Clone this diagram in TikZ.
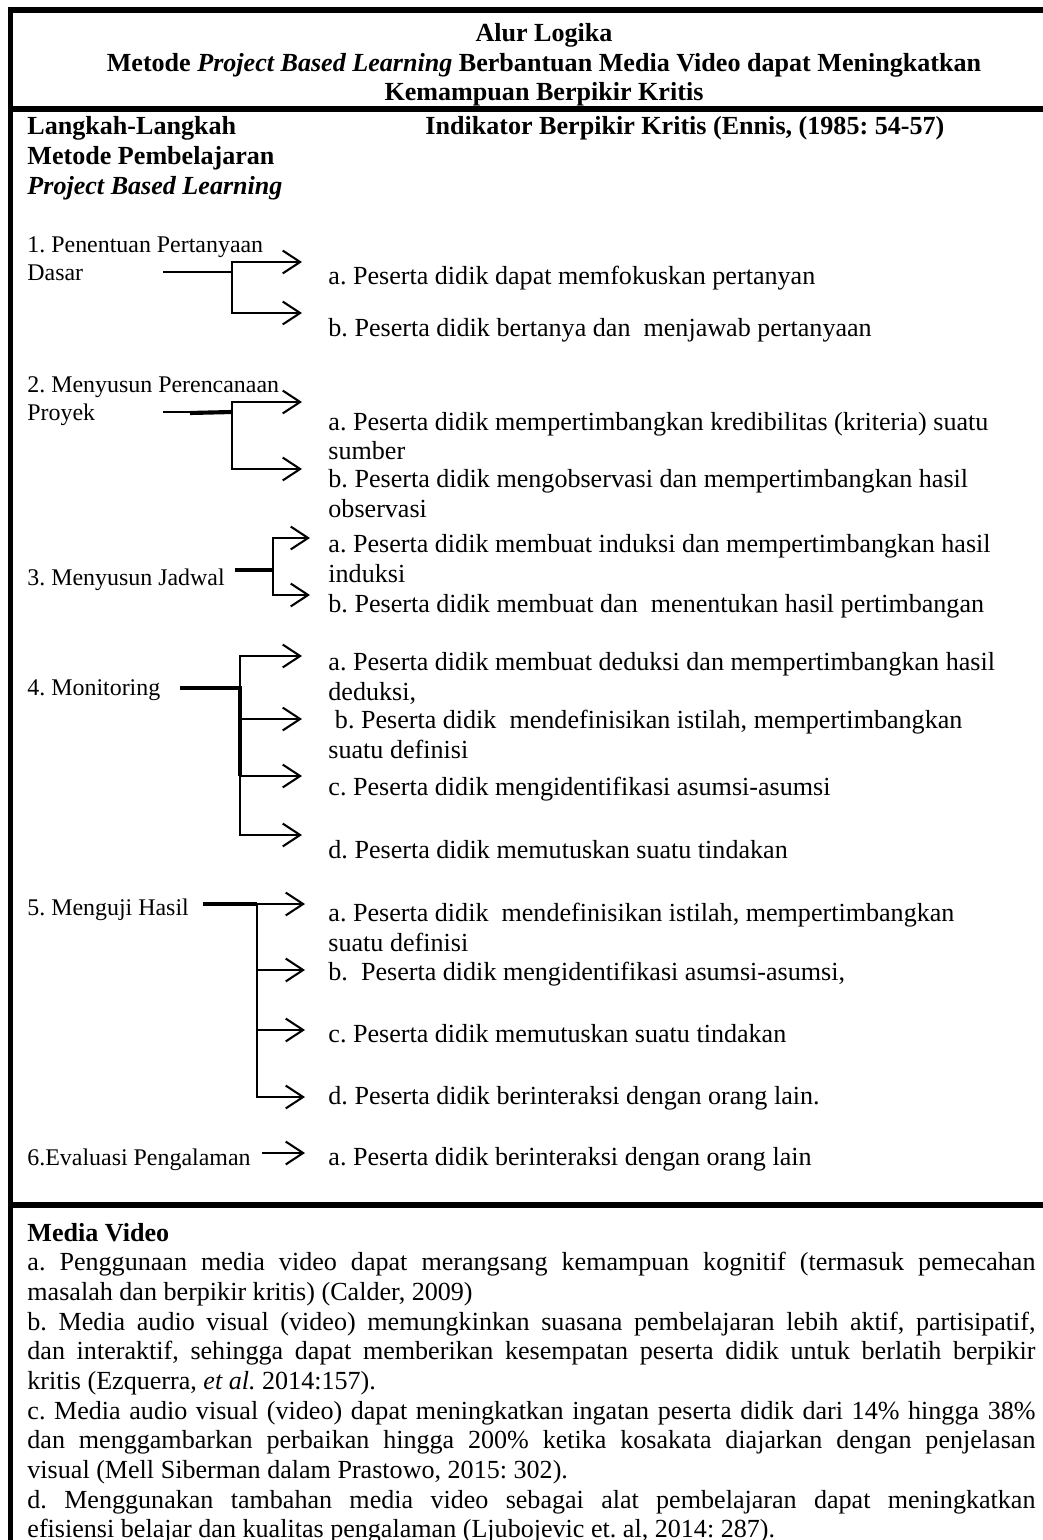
\documentclass[tikz,border=0pt]{standalone}
\usepackage{fontspec}
\setmainfont{Liberation Serif}
\usetikzlibrary{arrows.meta}
\frenchspacing

\begin{document}
\begin{tikzpicture}[x=0.46pt,y=-0.46pt,
  frame/.style={line width=2.45pt},
  link/.style={line width=0.95pt},
  heavy/.style={line width=1.9pt},
  arr/.style={line width=0.95pt,-{Straight Barb[length=8pt,width=10.5pt]}},
  stage/.style={anchor=base west,inner sep=0pt,align=left,font=\fontsize{11}{12.9}\selectfont},
  ind/.style={anchor=base west,inner sep=0pt,align=left,font=\fontsize{12}{13.6}\selectfont}]
\useasboundingbox (0,0) rectangle (1042,1540);

% frame and rules
\draw[frame] (10.7,7.5) -- (10.7,1545);
\draw[frame] (8,10) -- (1045,10);
\draw[frame] (8,109) -- (1045,109);
\draw[frame] (8,1205) -- (1045,1205);

% title and headers (multi-line nodes sit on their last baseline)
\node[anchor=base,inner sep=0pt,align=center,font=\bfseries\fontsize{12}{13.6}\selectfont] (title) at (544,101) {Alur Logika\\Metode \textit{Project Based Learning} Berbantuan Media Video dapat Meningkatkan\\Kemampuan Berpikir Kritis};
\node[ind,font=\bfseries\fontsize{12}{13.9}\selectfont] (head1) at (27,195) {Langkah-Langkah\\Metode Pembelajaran\\\textit{Project Based Learning}};
\node[ind,font=\bfseries\fontsize{12}{13.6}\selectfont] (head2) at (425,134.6) {Indikator Berpikir Kritis (Ennis, (1985: 54-57)};

% step 1
\node[stage] (p1) at (27,281) {1. Penentuan Pertanyaan\\Dasar};
\node[ind] (p1a) at (328,285) {a. Peserta didik dapat memfokuskan pertanyan};
\node[ind] (p1b) at (328,337) {b. Peserta didik bertanya dan~ menjawab pertanyaan};
\coordinate (s1) at (163,272);
\coordinate (b1) at (232,272);
\coordinate (e1a) at (302,262);
\coordinate (e1b) at (302,313);
\draw[link] (s1) -- (b1);
\draw[arr] (b1) |- (e1a);
\draw[arr] (b1) |- (e1b);

% step 2
\node[stage] (p2) at (27,421) {2. Menyusun Perencanaan\\Proyek};
\node[ind] (p2a) at (328,460) {a. Peserta didik mempertimbangkan kredibilitas (kriteria) suatu\\sumber};
\node[ind] (p2b) at (328,517) {b. Peserta didik mengobservasi dan mempertimbangkan hasil\\observasi};
\coordinate (s2) at (163,412);
\coordinate (m2) at (190,413);
\coordinate (b2) at (232,412);
\coordinate (e2a) at (302,402);
\coordinate (e2b) at (302,469);
\draw[link] (s2) -- (b2);
\draw[heavy] (m2) -- (b2);
\draw[arr] (b2) |- (e2a);
\draw[arr] (b2) |- (e2b);

% step 3
\node[stage] (p3) at (27,585) {3. Menyusun Jadwal};
\node[ind] (p3a) at (328,582) {a. Peserta didik membuat induksi dan mempertimbangkan hasil\\induksi};
\node[ind] (p3b) at (328,612) {b. Peserta didik membuat dan~ menentukan hasil pertimbangan};
\coordinate (s3) at (235,570);
\coordinate (b3) at (273,570);
\coordinate (e3a) at (310,538);
\coordinate (e3b) at (310,595);
\draw[heavy] (s3) -- (b3);
\draw[arr] (b3) |- (e3a);
\draw[arr] (b3) |- (e3b);

% step 4
\node[stage] (p4) at (27,695) {4. Monitoring};
\node[ind] (p4a) at (328,700) {a. Peserta didik membuat deduksi dan mempertimbangkan hasil\\deduksi,};
\node[ind] (p4b) at (328,758) {\hspace*{0.25em}b. Peserta didik~ mendefinisikan istilah, mempertimbangkan\\suatu definisi};
\node[ind] (p4c) at (328,795) {c. Peserta didik mengidentifikasi asumsi-asumsi};
\node[ind] (p4d) at (328,858) {d. Peserta didik memutuskan suatu tindakan};
\coordinate (s4) at (180,688);
\coordinate (b4) at (240,688);
\coordinate (e4a) at (302,656);
\coordinate (e4b) at (302,719);
\coordinate (e4c) at (302,776);
\coordinate (e4d) at (302,835);
\draw[heavy] (s4) -- (b4) -- (b4 |- e4c);
\draw[arr] (b4) |- (e4a);
\draw[arr] (b4) |- (e4b);
\draw[arr] (b4) |- (e4c);
\draw[arr] (b4) |- (e4d);

% step 5
\node[stage] (p5) at (27,915) {5. Menguji Hasil};
\node[ind] (p5a) at (328,951) {a. Peserta didik~ mendefinisikan istilah, mempertimbangkan\\suatu definisi};
\node[ind] (p5b) at (328,980) {b.~ Peserta didik mengidentifikasi asumsi-asumsi,};
\node[ind] (p5c) at (328,1042) {c. Peserta didik memutuskan suatu tindakan};
\node[ind] (p5d) at (328,1104) {d. Peserta didik berinteraksi dengan orang lain.};
\coordinate (s5) at (203,904);
\coordinate (b5) at (257,904);
\coordinate (e5a) at (305,904);
\coordinate (e5b) at (305,970);
\coordinate (e5c) at (305,1030);
\coordinate (e5d) at (305,1097);
\draw[heavy] (s5) -- (b5);
\draw[arr] (b5) -- (e5a);
\draw[arr] (b5) |- (e5b);
\draw[arr] (b5) |- (e5c);
\draw[arr] (b5) |- (e5d);

% step 6
\node[stage] (p6) at (27,1165) {6.Evaluasi Pengalaman};
\node[ind] (p6a) at (328,1165) {a. Peserta didik berinteraksi dengan orang lain};
\coordinate (s6) at (262,1153);
\coordinate (e6a) at (305,1153);
\draw[arr] (s6) -- (e6a);

% media video
\node[anchor=base west,inner sep=0pt,text width=463.7pt,align=justify,font=\fontsize{12}{13.65}\selectfont] (media) at (27,1241) {\textbf{Media Video}\par
a. Penggunaan media video dapat merangsang kemampuan kognitif (termasuk pemecahan\linebreak masalah dan berpikir kritis) (Calder, 2009)\par
b. Media audio visual (video) memungkinkan suasana pembelajaran lebih aktif, partisipatif,\linebreak dan interaktif, sehingga dapat memberikan kesempatan peserta didik untuk berlatih berpikir\linebreak kritis (Ezquerra, \textit{et al.} 2014:157).\par
c. Media audio visual (video) dapat meningkatkan ingatan peserta didik dari 14\% hingga 38\%\linebreak dan menggambarkan perbaikan hingga 200\% ketika kosakata diajarkan dengan penjelasan\linebreak visual (Mell Siberman dalam Prastowo, 2015: 302).\par
d. Menggunakan tambahan media video sebagai alat pembelajaran dapat meningkatkan\linebreak efisiensi belajar dan kualitas pengalaman (Ljubojevic et. al, 2014: 287).};
\end{tikzpicture}
\end{document}
